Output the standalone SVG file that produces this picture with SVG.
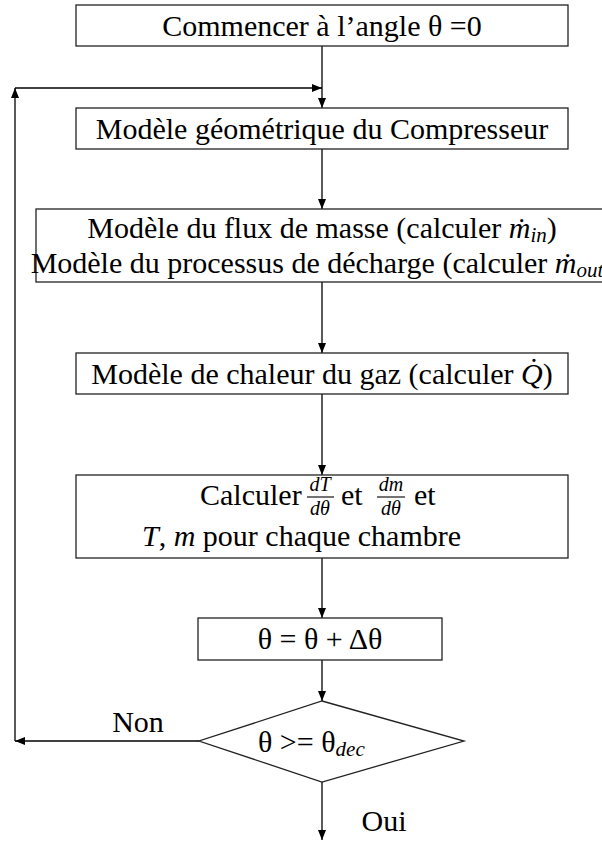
<svg xmlns="http://www.w3.org/2000/svg" width="602" height="843" viewBox="0 0 602 843">
  <defs>
    <marker id="arrow" viewBox="0 0 10 8" refX="10" refY="4" markerWidth="10" markerHeight="8" markerUnits="userSpaceOnUse" orient="auto">
      <path d="M0,0 L10,4 L0,8 Z" fill="#000"/>
    </marker>
    <style>
      .box { fill: #fff; stroke: #222; stroke-width: 1.3; }
      .wire { fill: none; stroke: #000; stroke-width: 1.3; marker-end: url(#arrow); }
      .bar { stroke: #000; stroke-width: 1.1; }
      text { font-family: "Liberation Serif", "Times New Roman", serif; font-size: 30px; fill: #000; }
      .c { text-anchor: middle; }
      .i { font-style: italic; }
      .sub { font-size: 21px; font-style: italic; }
      .frac { font-size: 20px; font-style: italic; text-anchor: middle; }
    </style>
  </defs>

  <!-- connectors -->
  <g id="connectors">
    <line class="wire" x1="322" y1="46" x2="322" y2="108"/>
    <line class="wire" x1="322" y1="149" x2="322" y2="209"/>
    <line class="wire" x1="322" y1="282" x2="322" y2="353"/>
    <line class="wire" x1="322" y1="394" x2="322" y2="475"/>
    <line class="wire" x1="322" y1="558" x2="322" y2="618"/>
    <line class="wire" x1="322" y1="660" x2="322" y2="701"/>
    <line class="wire" x1="322" y1="782" x2="322" y2="840"/>
    <!-- loop back on "Non" -->
    <line class="wire" x1="199" y1="741" x2="15" y2="741"/>
    <line class="wire" x1="15" y1="741" x2="15" y2="88"/>
    <line class="wire" x1="15" y1="88" x2="322" y2="88"/>
    <text x="138" y="732" class="c">Non</text>
    <text x="384" y="831" class="c">Oui</text>
  </g>

  <g id="start">
    <rect class="box" x="76" y="5" width="492" height="41"/>
    <text x="322" y="36" class="c">Commencer à l’angle θ =0</text>
  </g>

  <g id="geometry">
    <rect class="box" x="76" y="108" width="492" height="41"/>
    <text x="322" y="139" class="c">Modèle géométrique du Compresseur</text>
  </g>

  <g id="mass-flow">
    <rect class="box" x="36" y="209" width="580" height="73"/>
    <text x="322" y="238" class="c">Modèle du flux de masse (calculer <tspan class="i">ṁ</tspan><tspan class="sub" dy="4">in</tspan><tspan dy="-4">)</tspan></text>
    <text x="322" y="273" class="c" font-size="29">Modèle du processus de décharge (calculer <tspan class="i">ṁ</tspan><tspan class="sub" dy="4">out</tspan><tspan dy="-4">)</tspan></text>
  </g>

  <g id="heat">
    <rect class="box" x="76" y="353" width="492" height="41"/>
    <text x="322" y="384" class="c">Modèle de chaleur du gaz (calculer <tspan class="i">Q̇</tspan>)</text>
  </g>

  <g id="integrate">
    <rect class="box" x="76" y="475" width="492" height="83"/>
    <text x="200" y="505">Calculer</text>
    <text x="320" y="491" class="frac">dT</text>
    <line class="bar" x1="307" y1="497" x2="334" y2="497"/>
    <text x="320" y="515" class="frac">dθ</text>
    <text x="341" y="505">et</text>
    <text x="391" y="491" class="frac">dm</text>
    <line class="bar" x1="377" y1="497" x2="405" y2="497"/>
    <text x="391" y="515" class="frac">dθ</text>
    <text x="414" y="505">et</text>
    <text x="142" y="546"><tspan class="i">T</tspan>, <tspan class="i">m</tspan> pour chaque chambre</text>
  </g>

  <g id="step">
    <rect class="box" x="198" y="618" width="244" height="42"/>
    <text x="320" y="649" class="c">θ = θ + Δθ</text>
  </g>

  <g id="test">
    <polygon class="box" points="322,701 464,741 322,782 199,741"/>
    <text x="258" y="752">θ &gt;= θ<tspan class="sub" dy="4">dec</tspan></text>
  </g>
</svg>
